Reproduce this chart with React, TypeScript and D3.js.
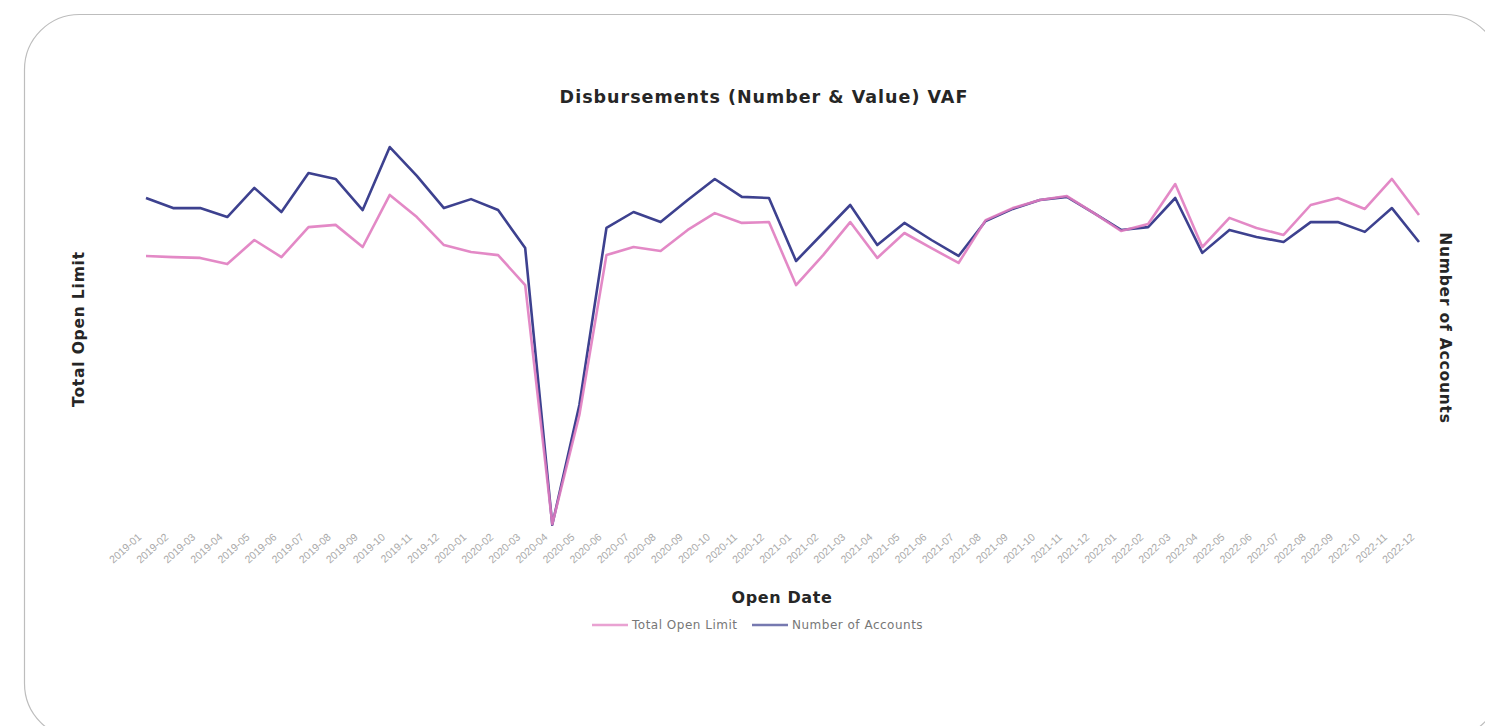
import React from "react";
import * as d3 from "d3";

const months: string[] = [];
const years = ["2019", "2020", "2021", "2022"];
const mm = ["01", "02", "03", "04", "05", "06", "07", "08", "09", "10", "11", "12"];
years.forEach((y) => mm.forEach((m) => months.push(`${y}-${m}`)));

// Total Open Limit (millions)
const totalOpenLimit = [
  9.68, 9.64, 9.61, 9.39, 10.25, 9.64, 10.71, 10.79, 10.0, 11.86, 11.07, 10.07,
  9.82, 9.71, 8.64, 0.1, 4.0, 9.71, 10.0, 9.86, 10.61, 11.21, 10.86, 10.89,
  8.64, 9.71, 10.89, 9.61, 10.5, 9.96, 9.43, 10.96, 11.39, 11.68, 11.82, 11.21,
  10.57, 10.82, 12.25, 10.0, 11.04, 10.68, 10.43, 11.5, 11.75, 11.36, 12.43, 11.14,
];

// Number of Accounts
const numberOfAccounts = [
  1175, 1139, 1139, 1107, 1211, 1125, 1264, 1243, 1132, 1357, 1254, 1139,
  1171, 1132, 996, 8, 436, 1068, 1125, 1089, 1168, 1243, 1179, 1175,
  950, 1050, 1150, 1007, 1086, 1025, 968, 1093, 1136, 1168, 1179, 1121,
  1061, 1071, 1175, 979, 1061, 1036, 1018, 1089, 1089, 1054, 1139, 1018,
];

const legendItems = [
  { label: "Total Open Limit", color: "#e07cc0" },
  { label: "Number of Accounts", color: "#3d418f" },
];

const W = 1485;
const H = 726;
const plotLeft = 146;
const plotRight = 1419;
const plotTop = 135;
const plotBottom = 527;

export default function App() {
  const x = d3.scalePoint<string>().domain(months).range([plotLeft, plotRight]);
  const yLeft = d3.scaleLinear().domain([0, 14]).range([plotBottom, plotTop]);
  const yRight = d3.scaleLinear().domain([0, 1400]).range([plotBottom, plotTop]);

  const pinkLine = d3
    .line<number>()
    .x((_, i) => x(months[i]) as number)
    .y((d) => yLeft(d));
  const blueLine = d3
    .line<number>()
    .x((_, i) => x(months[i]) as number)
    .y((d) => yRight(d));

  const font = "'DejaVu Sans', 'Liberation Sans', Arial, sans-serif";
  const lfont = "'Liberation Sans', Arial, sans-serif";

  return (
    <svg
      width={W}
      height={H}
      style={{ position: "absolute", left: 0, top: 0, background: "#fff" }}
    >
      <rect
        x={24.5}
        y={14.5}
        width={1476}
        height={724}
        rx={55}
        ry={55}
        fill="#fff"
        stroke="#bdbdbd"
        strokeWidth={1.2}
      />
      <text
        x={764}
        y={103}
        textAnchor="middle"
        fontFamily={font}
        fontWeight="bold"
        fontSize={17.5}
        letterSpacing={1}
        fill="#262626"
      >
        Disbursements (Number &amp; Value) VAF
      </text>

      <text
        transform={`translate(79,329) rotate(-90)`}
        textAnchor="middle"
        dominantBaseline="central"
        fontFamily={font}
        fontWeight="bold"
        fontSize={15.5}
        letterSpacing={0.8}
        fill="#262626"
      >
        Total Open Limit
      </text>
      <text
        transform={`translate(1445,328) rotate(90)`}
        textAnchor="middle"
        dominantBaseline="central"
        fontFamily={font}
        fontWeight="bold"
        fontSize={15.5}
        letterSpacing={0.8}
        fill="#262626"
      >
        Number of Accounts
      </text>

      {months.map((m) => (
        <text
          key={m}
          transform={`translate(${(x(m) as number) - 4},538) rotate(-42)`}
          textAnchor="end"
          fontFamily={lfont}
          fontSize={10.5}
          fill="#aaa"
        >
          {m}
        </text>
      ))}

      <text
        x={782}
        y={603}
        textAnchor="middle"
        fontFamily={font}
        fontWeight="bold"
        fontSize={16}
        letterSpacing={0.6}
        fill="#262626"
      >
        Open Date
      </text>

      <path
        d={blueLine(numberOfAccounts) || ""}
        fill="none"
        stroke={legendItems[1].color}
        strokeWidth={2.6}
        strokeLinejoin="round"
      />
      <path
        d={pinkLine(totalOpenLimit) || ""}
        fill="none"
        stroke={legendItems[0].color}
        strokeWidth={2.6}
        strokeLinejoin="round"
        opacity={0.9}
      />

      {legendItems.map((it, i) => {
        const lx = i === 0 ? 592 : 752;
        return (
          <g key={it.label}>
            <line
              x1={lx}
              x2={lx + 36}
              y1={625}
              y2={625}
              stroke={it.color}
              strokeWidth={2.5}
              opacity={0.7}
            />
            <text
              x={lx + 40}
              y={629}
              fontFamily={font}
              fontSize={12}
              letterSpacing={0.5}
              fill="#777"
            >
              {it.label}
            </text>
          </g>
        );
      })}
    </svg>
  );
}
